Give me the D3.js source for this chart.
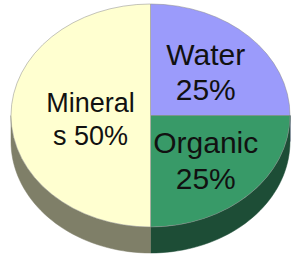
<!DOCTYPE html>
<html>
<head>
<meta charset="utf-8">
<script src="https://cdn.jsdelivr.net/npm/d3@7"></script>
<style>
  html, body { margin: 0; padding: 0; background: #fff; }
  svg { display: block; }
  text { font-family: "Liberation Sans", Arial, sans-serif; fill: #111; }
</style>
</head>
<body>
<div id="chart"></div>
<script>
// pie data, clockwise from 12 o'clock
var categories = ["Water", "Organic", "Mineral"];
var values = [25, 25, 50];
var labelLines = [["Water", "25%"], ["Organic", "25%"], ["Mineral", "s 50%"]];
var topColors = ["#9b9bfb", "#389a68", "#ffffd0"];
var sideColors = ["#4d4d7d", "#1d4d36", "#7f7f68"];

var width = 291,
    height = 256;

var cx = 150.5, cy = 115.5,
    rx = 139.5, ry = 111.5,
    depth = 26;

var svg = d3.select("#chart")
  .append("svg")
    .attr("width", width)
    .attr("height", height);

var pie = d3.pie().sort(null).value(function(d) { return d; });
var arcs = pie(values);

// point on the top ellipse for a d3 angle (0 = top, clockwise)
function pt(a, dy) {
  return [cx + rx * Math.sin(a), cy - ry * Math.cos(a) + (dy || 0)];
}

// side walls, only the front half (pi/2 .. 3pi/2) is visible
function sidePath(a0, a1) {
  var s = Math.max(a0, Math.PI / 2),
      e = Math.min(a1, 3 * Math.PI / 2);
  if (e <= s) return null;
  var n = 40, top = [], bot = [];
  for (var i = 0; i <= n; i++) {
    var a = s + (e - s) * i / n;
    top.push(pt(a));
    bot.push(pt(a, depth));
  }
  return d3.line()(top.concat(bot.reverse())) + "Z";
}

svg.append("g")
  .selectAll("path")
  .data(arcs)
  .enter().append("path")
    .attr("d", function(d) { return sidePath(d.startAngle, d.endAngle); })
    .attr("fill", function(d, i) { return sideColors[i]; })
    .attr("stroke", function(d, i) { return sideColors[i]; })
    .attr("stroke-width", 0.5);

// top face: draw circular arcs and squash them into the ellipse
var arc = d3.arc().innerRadius(0).outerRadius(rx);

var topG = svg.append("g")
    .attr("transform", "translate(" + cx + "," + cy + ") scale(1," + (ry / rx) + ")");

topG.selectAll("path")
  .data(arcs)
  .enter().append("path")
    .attr("d", arc)
    .attr("fill", function(d, i) { return topColors[i]; })
    .attr("stroke", "#888")
    .attr("stroke-width", 0.5)
    .attr("vector-effect", "non-scaling-stroke");

// labels
var labelRadius = [0.56, 0.56, 0.43];
var labelDy = [1, 1, 4];
var fontSizes = [30, 30, 27];
var lineGap = [35, 36, 33];

var labels = svg.append("g")
  .selectAll("text")
  .data(arcs)
  .enter().append("text")
    .attr("text-anchor", "middle")
    .attr("font-size", function(d, i) { return fontSizes[i] + "px"; })
    .attr("transform", function(d, i) {
      var r = rx * labelRadius[i];
      var c = d3.arc().innerRadius(r).outerRadius(r).centroid(d);
      return "translate(" + (cx + c[0]) + "," + (cy + c[1] * ry / rx + labelDy[i]) + ")";
    });

labels.each(function(d, i) {
  var t = d3.select(this);
  var lines = labelLines[i];
  lines.forEach(function(line, j) {
    t.append("tspan")
      .attr("x", 0)
      .attr("y", (j - (lines.length - 1) / 2) * lineGap[i] + fontSizes[i] * 0.35)
      .text(line);
  });
});
</script>
</body>
</html>
